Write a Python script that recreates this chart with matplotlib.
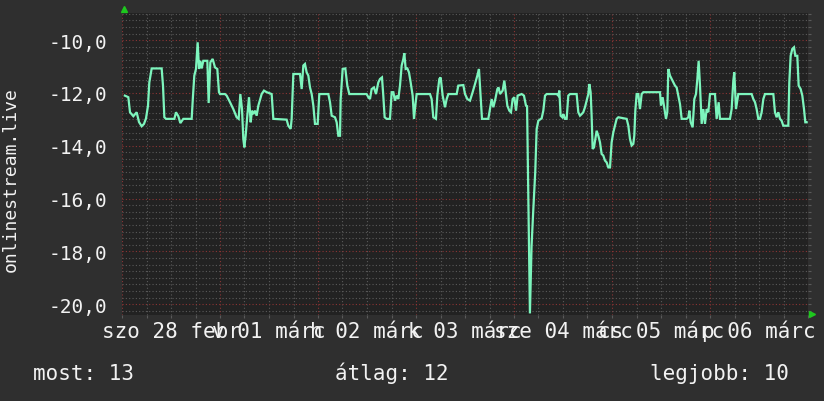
import matplotlib

matplotlib.use("Agg")
import matplotlib.pyplot as plt
from matplotlib.lines import Line2D
from matplotlib.ticker import FixedLocator, MultipleLocator
from matplotlib.transforms import blended_transform_factory

# hours since szo 28 febr 00:00, and the reading at that time
HOURS = [
    0.7, 1.55, 1.96, 2.78, 3.59, 4.16, 4.82, 5.39, 5.88, 6.37, 6.69, 7.27, 9.71,
    10.04, 10.37, 10.77, 12.82, 13.22, 13.8, 14.29, 15.02, 17.06, 17.39, 17.71,
    18.12, 18.53, 18.86, 19.18, 19.51, 19.92, 20.9, 21.22, 21.63, 22.2, 22.77,
    23.34, 23.75, 24.0, 25.22, 25.63, 26.45, 27.26, 28.08, 28.57, 28.98, 29.39,
    29.71, 29.96, 30.28, 30.69, 31.1, 31.51, 31.83, 32.16, 32.57, 32.98, 33.39,
    34.2, 34.77, 35.43, 36.65, 37.06, 40.32, 40.73, 41.3, 41.55, 41.96, 43.59,
    44.0, 44.41, 44.81, 45.22, 45.63, 46.04, 46.45, 46.86, 47.26, 47.92, 48.32,
    50.53, 50.94, 51.35, 52.16, 52.57, 52.98, 53.39, 53.55, 54.04, 54.69, 55.18,
    55.67, 59.9, 60.33, 60.73, 61.14, 61.71, 62.2, 62.77, 63.18, 63.67, 63.99,
    64.32, 64.81, 65.63, 66.04, 66.45, 66.85, 67.26, 67.67, 68.08, 68.49, 68.9,
    69.14, 69.47, 69.88, 70.28, 70.69, 71.18, 71.51, 71.83, 72.16, 75.42, 75.83,
    76.24, 76.89, 77.22, 77.71, 78.04, 78.53, 79.1, 79.51, 79.92, 81.96, 82.36,
    83.59, 84.0, 84.57, 85.22, 85.87, 86.45, 87.02, 87.42, 87.83, 88.16, 89.71,
    90.12, 90.53, 90.94, 91.43, 91.92, 92.24, 92.57, 93.22, 93.63, 94.04, 94.37,
    94.85, 95.26, 95.67, 96.08, 96.49, 96.89, 97.87, 98.44, 98.93, 99.2, 99.9,
    100.3, 100.7, 101.2, 101.55, 101.96, 102.77, 103.18, 103.59, 104.0, 106.45,
    106.85, 107.1, 107.42, 107.83, 108.08, 108.49, 108.89, 109.3, 109.71, 111.34,
    111.75, 112.16, 112.57, 112.97, 113.38, 113.79, 114.2, 114.44, 114.77, 115.01,
    115.26, 115.59, 115.91, 116.24, 116.65, 117.06, 117.46, 117.87, 118.28,
    118.69, 119.1, 119.51, 119.91, 120.32, 120.73, 121.14, 121.55, 123.59, 124.0,
    124.4, 124.81, 125.22, 125.46, 125.71, 126.04, 126.44, 126.85, 127.26,
    127.67, 131.75, 131.99, 132.4, 132.73, 133.22, 133.54, 133.79, 134.2, 134.61,
    135.42, 135.83, 136.24, 136.65, 137.06, 138.28, 138.69, 138.94, 139.26,
    139.75, 140.16, 140.57, 140.9, 141.22, 141.55, 141.96, 142.36, 142.77,
    143.18, 143.59, 144.0, 145.22, 145.63, 146.12, 146.44, 148.89, 149.3, 149.71,
    149.95, 150.36, 150.93, 154.2, 154.61, 155.02, 155.42, 155.83, 156.24,
    156.65, 157.06, 157.46, 159.51, 159.91, 160.32, 160.73, 161.14, 161.54,
    161.95, 163.18, 163.42, 163.75, 164.16, 164.57, 164.89, 165.38, 165.71,
    166.2, 166.61, 167.02, 167.34, 167.67,
]
VALUES = [
    -12.10, -12.16, -12.73, -12.88, -12.73, -13.10, -13.26, -13.17, -12.96,
    -12.48, -11.60, -11.07, -11.07, -11.72, -12.92, -12.98, -12.98, -12.73,
    -12.88, -13.14, -12.98, -12.98, -12.10, -11.34, -11.09, -10.08, -11.09,
    -10.78, -11.07, -10.78, -10.78, -12.38, -10.84, -10.71, -11.03, -11.09,
    -11.97, -12.04, -12.04, -12.10, -12.35, -12.61, -12.92, -12.98, -12.04,
    -12.61, -13.74, -14.06, -13.62, -12.86, -12.16, -13.11, -12.67, -12.80,
    -12.67, -12.86, -12.48, -12.04, -11.91, -11.97, -12.04, -12.98, -13.01,
    -13.24, -13.36, -12.98, -11.28, -11.28, -11.85, -10.96, -10.90, -11.22,
    -11.34, -11.79, -12.04, -12.48, -13.17, -13.17, -12.04, -12.04, -12.35,
    -12.86, -12.92, -13.11, -13.62, -13.62, -12.23, -11.09, -11.07, -11.72,
    -12.04, -12.04, -12.16, -12.23, -11.85, -11.79, -12.04, -11.60, -11.47,
    -11.41, -12.10, -12.92, -12.98, -12.98, -11.97, -11.97, -12.29, -12.10,
    -12.23, -11.72, -10.96, -10.71, -10.49, -11.09, -11.07, -11.22, -11.60,
    -12.10, -12.98, -12.48, -12.04, -12.04, -12.23, -12.92, -12.98, -12.10,
    -11.47, -11.41, -12.10, -12.54, -12.23, -12.04, -12.04, -11.72, -11.70,
    -12.04, -12.23, -12.29, -11.97, -11.66, -11.34, -11.09, -12.10, -12.98,
    -12.98, -12.61, -12.23, -12.54, -12.23, -11.85, -11.79, -12.04, -11.91,
    -11.53, -12.04, -12.48, -12.67, -12.73, -12.23, -12.16, -12.67, -12.10,
    -12.04, -12.10, -12.48, -12.50, -20.35, -17.80, -16.50, -15.00, -13.36,
    -13.05, -12.96, -12.67, -12.10, -12.04, -12.04, -12.10, -11.91, -12.86,
    -12.92, -12.80, -12.98, -12.98, -12.10, -12.04, -12.04, -12.73, -12.86,
    -12.80, -12.73, -12.54, -12.29, -12.04, -11.66, -11.97, -12.86, -14.12,
    -14.06, -13.74, -13.43, -13.62, -13.87, -14.31, -14.37, -14.56, -14.63,
    -14.82, -14.82, -13.87, -13.49, -13.24, -12.98, -12.92, -12.98, -13.24,
    -13.74, -13.99, -13.93, -13.62, -12.67, -12.04, -12.04, -12.61, -12.04,
    -11.97, -11.97, -12.48, -12.16, -12.48, -12.98, -12.73, -11.09, -11.34,
    -11.47, -11.72, -11.79, -12.10, -12.42, -12.98, -12.98, -12.92, -12.67,
    -13.11, -13.30, -12.23, -12.04, -11.47, -10.78, -11.72, -13.17, -12.61,
    -13.17, -12.61, -12.73, -12.04, -12.04, -12.98, -12.35, -12.98, -12.98,
    -12.61, -11.53, -11.22, -12.61, -12.04, -12.04, -12.23, -12.35, -12.61,
    -12.98, -12.98, -12.73, -12.23, -12.04, -12.04, -12.73, -12.92, -12.73,
    -12.98, -13.05, -13.24, -13.24, -11.60, -10.59, -10.33, -10.27, -10.59,
    -10.59, -11.72, -11.85, -12.10, -12.61, -13.11, -13.11,
]

DAY_LABELS = ["szo 28 febr", "v 01 márc", "h 02 márc", "k 03 márc",
              "sze 04 márc", "cs 05 márc", "p 06 márc"]
Y_TICKS = [-20, -18, -16, -14, -12, -10]
Y_LIMITS = (-20.41, -8.97)
Y_LABEL = "onlinestream.live"
SUMMARY = ["most: 13", "átlag: 12", "legjobb: 10"]

FIG_BG = "#2f2f2f"
PLOT_BG = "#222222"
LINE = "#7df5bd"
MINOR = "#5a5a5a"
MAJOR = "#8c3434"
TEXT = "#f2f2f2"

plt.rcParams["font.family"] = ["DejaVu Sans Mono"]

fig = plt.figure(figsize=(8.24, 4.02), dpi=100, facecolor=FIG_BG)
ax = fig.add_axes([122 / 824, 1 - 316 / 402, 686 / 824, 302 / 402])
ax.set_facecolor(PLOT_BG)

ax.plot(HOURS, VALUES, color=LINE, linewidth=1.6, solid_joinstyle="miter", zorder=3)

ax.set_xlim(0, 24 * len(DAY_LABELS))
ax.set_ylim(*Y_LIMITS)

ax.xaxis.set_major_locator(MultipleLocator(24))
ax.xaxis.set_minor_locator(MultipleLocator(6))
ax.yaxis.set_major_locator(FixedLocator(Y_TICKS))
ax.yaxis.set_minor_locator(MultipleLocator(0.25))

dots = (0, (1, 2))
ax.grid(which="minor", color=MINOR, linestyle=dots, linewidth=0.8)
ax.grid(which="major", color=MAJOR, linestyle=dots, linewidth=0.8)

ax.tick_params(axis="x", which="both", bottom=True, labelbottom=False,
               length=2.5, width=0.8, color=MINOR, direction="out")
ax.tick_params(axis="y", which="both", left=False, right=True, length=2,
               width=0.8, color=MINOR, direction="out", labelleft=True,
               labelsize=14, labelcolor=TEXT, pad=8.8)
ax.set_yticklabels([f"{v:.1f}".replace(".", ",") for v in Y_TICKS])

for s in ax.spines.values():
    s.set_visible(False)

# day labels sit under the middle of each day, like rrdtool does
trans = blended_transform_factory(ax.transData, ax.transAxes)
for i, lab in enumerate(DAY_LABELS):
    ax.text(24 * i + 12, -0.073, lab, transform=trans, ha="center",
            va="baseline", fontsize=15, color=TEXT)

fig.text(11 / 824, 1 - 180 / 402, Y_LABEL, rotation=90, ha="center",
         va="center", fontsize=13, color=TEXT)

for x, s in zip([33, 335, 650], SUMMARY):
    fig.text(x / 824, 1 - 380 / 402, s, ha="left", va="baseline",
             fontsize=15, color=TEXT)

# little green arrows at the axis ends
fig.add_artist(Line2D([124 / 824], [1 - 10 / 402], marker="^", markersize=4,
                      color="#1ec81e", linestyle="none"))
fig.add_artist(Line2D([812 / 824], [1 - 315 / 402], marker=">", markersize=4,
                      color="#1ec81e", linestyle="none"))

fig.savefig("out.png", dpi=100, facecolor=FIG_BG)
